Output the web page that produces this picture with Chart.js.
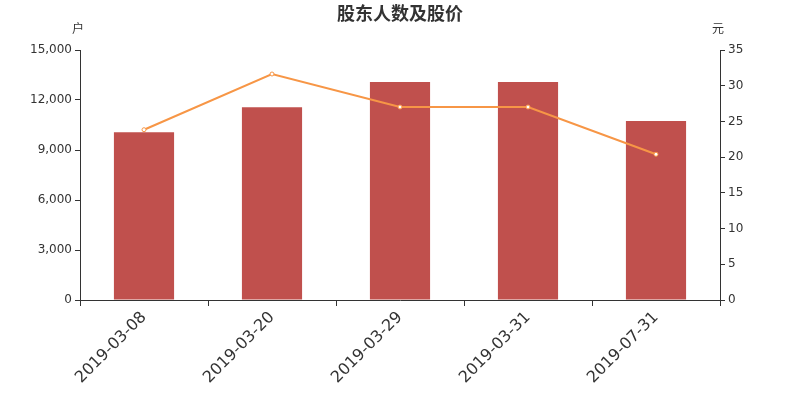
<!DOCTYPE html>
<html>
<head>
    <meta charset="utf-8">
    <title>股东人数及股价</title>
    <script src="https://cdn.jsdelivr.net/npm/chart.js"></script>
    <style>
        html, body { margin: 0; padding: 0; background: #fff; }
        #chartContainer { width: 800px; height: 400px; }
    </style>
</head>
<body>
    <div id="chartContainer">
        <canvas id="myChart" width="800" height="400"></canvas>
    </div>

    <script>
        // data
        const dates = ['2019-03-08', '2019-03-20', '2019-03-29', '2019-03-31', '2019-07-31'];
        const holders = [10060, 11560, 13080, 13080, 10740];   // 户
        const prices = [23.84, 31.64, 27.02, 27.02, 20.4];     // 元
        const leftTicks = [0, 3000, 6000, 9000, 12000, 15000];
        const rightTicks = [0, 5, 10, 15, 20, 25, 30, 35];

        const textColor = '#333';
        const tickFont = { family: 'DejaVu Sans', size: 12 };

        // title + the two unit labels above the axes
        const extraText = {
            id: 'extraText',
            afterDraw(chart) {
                const c = chart.ctx;
                const area = chart.chartArea;
                c.save();
                c.fillStyle = textColor;
                c.textAlign = 'center';
                c.textBaseline = 'middle';
                c.font = 'bold 18px "Noto Sans CJK SC"';
                c.fillText('股东人数及股价', 400, 13);
                c.font = '12px "Noto Sans CJK SC"';
                c.fillText('户', area.left - 2, 28);
                c.fillText('元', area.right - 2, 28);
                c.restore();
            }
        };

        const ctx = document.getElementById('myChart').getContext('2d');
        const myChart = new Chart(ctx, {
            type: 'bar',
            data: {
                labels: dates,
                datasets: [{
                    type: 'line',
                    label: '股价',
                    data: prices,
                    yAxisID: 'y1',
                    borderColor: '#f79646',
                    borderWidth: 2,
                    pointRadius: 2,
                    pointBackgroundColor: '#fff',
                    pointBorderColor: '#f79646',
                    pointBorderWidth: 1,
                    tension: 0,
                    order: 0
                }, {
                    label: '股东人数',
                    data: holders,
                    yAxisID: 'y',
                    backgroundColor: '#c0504d',
                    borderWidth: 0,
                    barPercentage: 0.47,
                    categoryPercentage: 1,
                    order: 1
                }]
            },
            options: {
                responsive: false,
                animation: false,
                layout: { padding: { top: 50, left: 0, right: 0, bottom: 0 } },
                plugins: {
                    legend: { display: false },
                    title: { display: false },
                    tooltip: { enabled: false }
                },
                scales: {
                    x: {
                        offset: true,
                        grid: {
                            offset: true,
                            drawOnChartArea: false,
                            drawTicks: true,
                            tickLength: 6,
                            color: textColor
                        },
                        border: { display: true, color: textColor, width: 1 },
                        ticks: {
                            color: textColor,
                            font: { family: 'DejaVu Sans', size: 16 },
                            maxRotation: 45,
                            minRotation: 45,
                            autoSkip: false,
                            padding: 2
                        },
                        afterFit(scale) { scale.height = 100; }
                    },
                    y: {
                        position: 'left',
                        min: 0,
                        max: 15000,
                        afterBuildTicks(scale) { scale.ticks = leftTicks.map(v => ({ value: v })); },
                        grid: {
                            drawOnChartArea: false,
                            drawTicks: true,
                            tickLength: 5,
                            color: textColor
                        },
                        border: { display: true, color: textColor, width: 1 },
                        ticks: {
                            color: textColor,
                            font: tickFont,
                            padding: 3,
                            callback: v => v.toLocaleString('en-US')
                        },
                        afterFit(scale) { scale.width = 80; }
                    },
                    y1: {
                        position: 'right',
                        min: 0,
                        max: 35,
                        afterBuildTicks(scale) { scale.ticks = rightTicks.map(v => ({ value: v })); },
                        grid: {
                            drawOnChartArea: false,
                            drawTicks: true,
                            tickLength: 5,
                            color: textColor
                        },
                        border: { display: true, color: textColor, width: 1 },
                        ticks: {
                            color: textColor,
                            font: tickFont,
                            padding: 3
                        },
                        afterFit(scale) { scale.width = 80; }
                    }
                }
            },
            plugins: [extraText]
        });
    </script>
</body>
</html>
